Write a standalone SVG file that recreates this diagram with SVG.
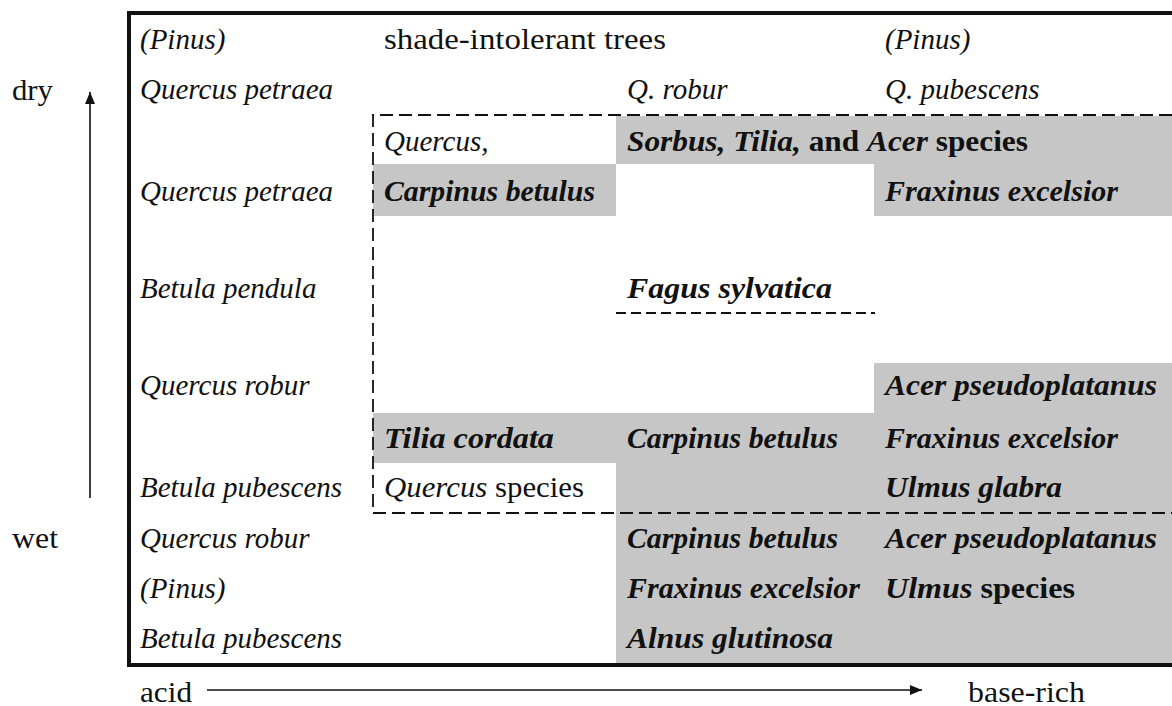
<svg xmlns="http://www.w3.org/2000/svg" width="1172" height="706" viewBox="0 0 1172 706">
<defs>
<style>
text { font-family: "Liberation Serif", "Times New Roman", serif; font-size: 29px; fill: #111; }
.i { font-style: italic; }
.b { font-style: italic; font-weight: bold; font-size: 30px; }
.br { font-style: normal; font-weight: bold; }
.r { font-style: normal; }
.shade { fill: #c6c6c6; }
.dash { fill: none; stroke: #111; stroke-width: 1.8; stroke-dasharray: 13 6; }
.dash2 { fill: none; stroke: #111; stroke-width: 1.8; stroke-dasharray: 10 5; }
.axis { fill: none; stroke: #111; stroke-width: 1.6; }
.frame { fill: none; stroke: #111; stroke-width: 4; }
</style>
<marker id="ah" viewBox="0 0 12 10" refX="12" refY="5" markerWidth="12" markerHeight="10" markerUnits="userSpaceOnUse" orient="auto">
<path d="M0,0 L12,5 L0,10 z" fill="#111"/>
</marker>
</defs>
<rect width="1172" height="706" fill="#ffffff"/>

<g id="shading">
<path class="shade" d="M373,164 H616 V216 H373 Z"/>
<path class="shade" d="M616,116 H1172 V216 H874 V164 H616 Z"/>
<path class="shade" d="M874,363 H1172 V663 H616 V463 H373 V413 H874 Z"/>
</g>

<g id="frame">
<path class="frame" d="M1176,13 H129 V665 H1176"/>
</g>

<g id="connectors">
<path id="shade-box" class="dash" d="M1172,115 H373 V513 H1172"/>
<path id="fagus-line" class="dash2" d="M616,313 H875"/>
<path id="moisture-axis" class="axis" d="M90,498 V92" marker-end="url(#ah)"/>
<path id="base-axis" class="axis" d="M207,690 H922" marker-end="url(#ah)"/>
</g>

<g id="axis-labels">
<text id="dry" class="r" x="12" y="100" textLength="41" lengthAdjust="spacingAndGlyphs">dry</text>
<text id="wet" class="r" x="12" y="548" textLength="46" lengthAdjust="spacingAndGlyphs">wet</text>
<text id="acid" class="r" x="140" y="702" textLength="52" lengthAdjust="spacingAndGlyphs">acid</text>
<text id="base-rich" class="r" x="968" y="702" textLength="117" lengthAdjust="spacingAndGlyphs">base-rich</text>
</g>

<g id="col1">
<text class="i" x="140" y="49">(Pinus)</text>
<text class="i" x="140" y="99">Quercus petraea</text>
<text class="i" x="140" y="201">Quercus petraea</text>
<text class="i" x="140" y="298">Betula pendula</text>
<text class="i" x="140" y="395">Quercus robur</text>
<text class="i" x="140" y="497">Betula pubescens</text>
<text class="i" x="140" y="548">Quercus robur</text>
<text class="i" x="140" y="598">(Pinus)</text>
<text class="i" x="140" y="648">Betula pubescens</text>
</g>

<g id="col2">
<text class="r" x="384" y="49" textLength="282" lengthAdjust="spacingAndGlyphs">shade-intolerant trees</text>
<text class="i" x="384" y="151">Quercus,</text>
<text class="b" x="384" y="201" textLength="211" lengthAdjust="spacingAndGlyphs">Carpinus betulus</text>
<text class="b" x="384" y="448" textLength="170" lengthAdjust="spacingAndGlyphs">Tilia cordata</text>
<text class="i" x="384" y="497" textLength="200" lengthAdjust="spacingAndGlyphs">Quercus<tspan class="r"> species</tspan></text>
</g>

<g id="col3">
<text class="i" x="627" y="99">Q. robur</text>
<text class="b" x="627" y="151" textLength="401" lengthAdjust="spacingAndGlyphs">Sorbus, Tilia,<tspan class="br"> and </tspan>Acer<tspan class="br"> species</tspan></text>
<text class="b" x="627" y="298" textLength="205" lengthAdjust="spacingAndGlyphs">Fagus sylvatica</text>
<text class="b" x="627" y="448" textLength="211" lengthAdjust="spacingAndGlyphs">Carpinus betulus</text>
<text class="b" x="627" y="548" textLength="211" lengthAdjust="spacingAndGlyphs">Carpinus betulus</text>
<text class="b" x="627" y="598" textLength="233" lengthAdjust="spacingAndGlyphs">Fraxinus excelsior</text>
<text class="b" x="627" y="648" textLength="206" lengthAdjust="spacingAndGlyphs">Alnus glutinosa</text>
</g>

<g id="col4">
<text class="i" x="885" y="49">(Pinus)</text>
<text class="i" x="885" y="99">Q. pubescens</text>
<text class="b" x="885" y="201" textLength="233" lengthAdjust="spacingAndGlyphs">Fraxinus excelsior</text>
<text class="b" x="885" y="395" textLength="272" lengthAdjust="spacingAndGlyphs">Acer pseudoplatanus</text>
<text class="b" x="885" y="448" textLength="233" lengthAdjust="spacingAndGlyphs">Fraxinus excelsior</text>
<text class="b" x="885" y="497" textLength="177" lengthAdjust="spacingAndGlyphs">Ulmus glabra</text>
<text class="b" x="885" y="548" textLength="272" lengthAdjust="spacingAndGlyphs">Acer pseudoplatanus</text>
<text class="b" x="885" y="598" textLength="190" lengthAdjust="spacingAndGlyphs">Ulmus<tspan class="br"> species</tspan></text>
</g>
</svg>
